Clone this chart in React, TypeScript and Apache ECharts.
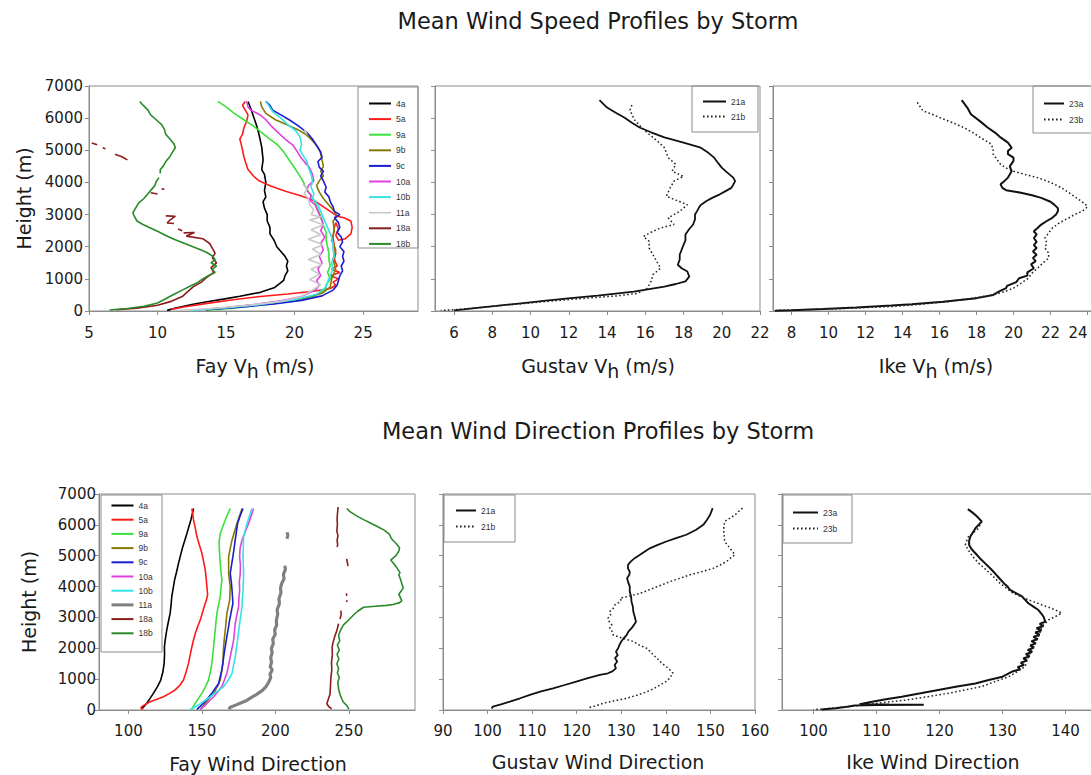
import React, { useEffect, useRef } from "react";
import * as echarts from "echarts";

type P = (number | string)[];
const GAP: P = ["-", "-"];

// ---------- tick labels ----------
const heightTicks = [0, 1000, 2000, 3000, 4000, 5000, 6000, 7000];
const fayVhTicks = [5, 10, 15, 20, 25];
const gustavVhTicks = [6, 8, 10, 12, 14, 16, 18, 20, 22];
const ikeVhTicks = [8, 10, 12, 14, 16, 18, 20, 22, 24];
const fayDirTicks = [100, 150, 200, 250];
const gustavDirTicks = [90, 100, 110, 120, 130, 140, 150, 160];
const ikeDirTicks = [100, 110, 120, 130, 140];

const fayStorms = ["4a", "5a", "9a", "9b", "9c", "10a", "10b", "11a", "18a", "18b"];
const gustavStorms = ["21a", "21b"];
const ikeStorms = ["23a", "23b"];

// ---------- Fay wind speed [Vh m/s, height m] ----------
const fayVh4a: P[] = [[16.6,6520],[16.8,6300],[17.0,6050],[17.2,5800],[17.4,5500],[17.6,5100],[17.7,4700],[17.6,4400],[17.8,4250],[17.9,4000],[17.8,3750],[17.9,3550],[17.7,3400],[17.8,3200],[18.0,3000],[18.0,2800],[18.2,2600],[18.2,2400],[18.5,2200],[18.7,2000],[19.0,1850],[19.3,1700],[19.5,1550],[19.4,1400],[19.5,1250],[19.3,1100],[19.2,950],[18.9,850],[18.5,720],[17.5,580],[16.0,460],[14.8,370],[13.5,280],[12.5,200],[11.4,100],[10.7,20]];
const fayVh5a: P[] = [[16.4,6520],[16.2,6400],[16.4,6250],[16.6,6100],[16.5,5900],[16.3,5700],[16.2,5500],[16.0,5350],[16.1,5200],[16.2,5000],[16.3,4800],[16.4,4650],[16.6,4400],[17.0,4200],[17.4,4050],[18.3,3880],[19.4,3720],[20.5,3580],[21.4,3440],[22.0,3270],[22.6,3100],[23.1,2950],[23.6,2900],[24.1,2800],[24.2,2600],[24.1,2400],[23.7,2250],[23.2,2200],[23.0,2350],[23.2,2550],[23.0,2750],[22.9,2600],[22.8,2300],[22.9,2000],[23.0,1800],[22.9,1600],[23.1,1400],[22.7,1300],[23.3,1200],[22.6,1100],[23.2,1000],[22.8,900],[23.0,800],[22.6,700],[21.5,620],[19.5,530],[17.5,450],[15.5,350],[13.5,230],[12.0,130],[11.0,50]];
const fayVh9a: P[] = [[14.4,6520],[15.0,6350],[15.6,6150],[16.3,5950],[17.0,5750],[17.6,5550],[18.2,5350],[18.8,5150],[19.2,4950],[19.6,4700],[20.0,4450],[20.3,4250],[20.6,4050],[20.8,3850],[21.1,3650],[21.4,3450],[21.6,3250],[21.8,3050],[22.0,2850],[22.1,2650],[22.3,2450],[22.3,2200],[22.4,2000],[22.5,1800],[22.5,1600],[22.6,1400],[22.4,1200],[22.6,1000],[22.3,800],[22.2,650],[21.5,470],[20.0,320],[18.0,200],[15.5,90],[13.5,20]];
const fayVh9b: P[] = [[17.5,6520],[17.6,6350],[17.9,6150],[18.6,5950],[19.4,5800],[20.2,5650],[20.8,5500],[21.3,5300],[21.7,5100],[21.9,4900],[22.0,4700],[22.1,4500],[21.9,4350],[22.1,4200],[21.8,4050],[21.6,3900],[21.8,3700],[22.1,3500],[22.5,3300],[22.9,3100],[23.1,2950],[22.8,2800],[22.9,2500],[22.7,2200],[23.0,1900],[22.8,1600],[23.0,1300],[22.7,1000],[22.6,750],[22.0,550],[20.5,380],[18.5,250],[16.0,130],[13.5,40]];
const fayVh9c: P[] = [[17.9,6520],[18.2,6400],[18.4,6250],[19.0,6100],[19.6,5950],[20.3,5750],[20.9,5550],[21.3,5350],[21.6,5150],[21.9,4950],[22.0,4780],[21.7,4650],[21.8,4470],[22.1,4350],[21.9,4200],[22.1,4050],[22.3,3850],[22.2,3700],[22.5,3550],[22.6,3400],[22.8,3250],[22.9,3100],[23.3,3000],[22.9,2900],[23.2,2750],[23.3,2600],[23.1,2450],[23.4,2300],[23.5,2150],[23.3,2000],[23.6,1850],[23.5,1700],[23.6,1550],[23.4,1400],[23.5,1250],[23.3,1100],[23.2,950],[23.1,800],[22.8,650],[22.0,470],[20.5,330],[18.5,220],[16.0,120],[13.5,40]];
const fayVh10a: P[] = [[16.5,6520],[16.6,6350],[16.8,6250],[17.5,6100],[17.9,5950],[18.3,5750],[18.8,5550],[19.3,5350],[19.9,5150],[20.2,4950],[20.5,4750],[20.8,4600],[21.1,4450],[21.3,4250],[21.4,4050],[21.0,3900],[20.9,3750],[21.2,3600],[21.1,3450],[21.5,3300],[21.7,3100],[21.9,2900],[22.1,2700],[21.9,2500],[22.2,2300],[21.9,2100],[22.1,1900],[21.8,1700],[22.0,1500],[21.7,1300],[21.9,1100],[21.6,950],[21.8,800],[21.5,650],[20.5,450],[19.0,320],[17.0,200],[15.0,110],[13.0,40]];
const fayVh10b: P[] = [[17.9,6520],[18.1,6400],[18.4,6200],[19.0,6000],[19.5,5800],[20.1,5600],[20.4,5400],[20.5,5200],[20.4,5000],[20.6,4850],[20.9,4650],[21.0,4470],[21.2,4250],[21.3,4060],[21.2,3850],[21.4,3650],[21.3,3500],[21.7,3300],[21.9,3100],[22.1,2900],[22.3,2700],[22.5,2500],[22.7,2300],[22.8,2100],[22.8,1900],[22.9,1700],[22.7,1500],[22.8,1300],[22.6,1100],[22.4,900],[22.3,750],[21.6,520],[20.0,350],[17.5,200],[15.0,100],[12.5,20]];
const fayVh11a: P[] = [[20.7,5650],[20.9,5500],GAP,[20.6,3950],[20.9,3800],[20.7,3650],[21.0,3500],[21.1,3300],[21.4,3150],[21.2,3000],[21.9,2920],[21.1,2830],[22.1,2680],[21.2,2530],[21.9,2380],[21.0,2230],[22.1,2060],[21.3,1930],[21.9,1760],[21.0,1600],[22.0,1450],[21.2,1300],[21.8,1140],[21.1,980],[21.9,820],[21.3,650],[20.5,450],[19.0,300],[16.5,170],[13.5,60],[11.0,10]];
const fayVh18a: P[] = [[5.2,5230],[5.6,5170],GAP,[6.0,5080],[6.2,5050],GAP,[6.9,4880],[7.4,4800],[7.8,4700],GAP,[9.5,3680],[10.0,3640],GAP,[10.3,3800],[10.5,3790],GAP,[10.6,2960],[11.3,2950],[10.9,2830],[10.7,2740],[11.2,2720],GAP,[11.5,2550],[11.8,2500],GAP,[11.9,2430],[12.7,2440],[12.1,2330],[13.3,2250],[13.8,2100],[14.0,1950],[14.2,1800],[14.0,1650],[14.3,1500],[13.9,1350],[14.1,1200],[13.6,1050],[13.2,900],[12.6,750],[12.2,600],[11.8,450],[11.0,300],[10.0,180],[8.5,90],[7.0,40]];
const fayVh18b: P[] = [[8.7,6520],[9.0,6380],[9.3,6250],[9.5,6100],[9.9,5950],[10.3,5800],[10.5,5650],[10.6,5500],[10.9,5350],[11.2,5200],[11.3,5080],[11.1,4950],[10.9,4800],[10.6,4650],[10.4,4500],[10.2,4400],[10.2,4280],GAP,[10.1,4150],[9.9,4020],[9.8,3900],[9.6,3800],[9.3,3650],[9.0,3500],[8.6,3350],[8.4,3200],[8.2,3050],[8.3,2950],[8.5,2800],[8.9,2700],[9.4,2600],[10.0,2480],[10.6,2350],[11.2,2230],[11.8,2130],[12.4,2030],[13.0,1930],[13.6,1820],[14.0,1710],[14.2,1600],[13.9,1500],[14.3,1400],[14.0,1300],[14.2,1200],[13.7,1100],[13.3,1000],[12.9,880],[12.4,780],[11.8,650],[11.2,520],[10.6,380],[10.0,250],[9.0,150],[7.8,80],[6.5,30]];

// ---------- Gustav wind speed ----------
const gustavVh21a: P[] = [[13.6,6560],[14.0,6330],[14.5,6150],[14.9,6020],[15.3,5860],[15.7,5710],[16.3,5560],[17.0,5400],[18.0,5240],[18.9,5080],[19.3,4920],[19.6,4770],[19.8,4610],[20.0,4460],[20.2,4350],[20.4,4250],[20.6,4150],[20.7,4040],[20.6,3930],[20.5,3830],[20.2,3730],[19.9,3630],[19.5,3520],[19.2,3420],[18.9,3300],[18.8,3210],[18.7,3100],[18.6,3000],[18.6,2850],[18.5,2690],[18.3,2550],[18.1,2380],[18.1,2200],[18.0,2060],[17.9,1900],[17.8,1750],[17.8,1600],[17.7,1440],[17.9,1330],[18.2,1230],[18.3,1070],[18.1,920],[17.6,840],[17.0,760],[15.4,600],[13.5,480],[12.1,400],[10.8,320],[9.5,240],[8.2,160],[7.2,100],[6.5,50],[6.0,20]];
const gustavVh21b: P[] = [[15.3,6410],[15.2,6250],[15.3,6120],[15.4,5970],[15.8,5710],[16.1,5550],[16.4,5400],[16.7,5250],[17.0,5080],[17.1,4920],[17.2,4770],[17.6,4560],[17.4,4350],[18.0,4190],[17.5,4040],[17.3,3830],[17.1,3570],[17.6,3450],[18.2,3310],[17.8,3100],[17.2,2900],[17.5,2690],[16.8,2580],[16.4,2480],[15.9,2320],[16.2,2170],[16.2,1960],[16.4,1750],[16.6,1540],[16.8,1330],[16.4,1130],[16.3,920],[16.1,710],[15.6,550],[14.5,470],[12.5,380],[10.5,280],[8.5,170],[7.0,90],[6.0,40],[5.3,20]];

// ---------- Ike wind speed ----------
const ikeVh23a: P[] = [[17.2,6560],[17.5,6330],[17.7,6120],[18.2,5900],[18.6,5710],[19.0,5550],[19.3,5400],[19.7,5240],[19.9,5080],[19.7,4980],[19.7,4880],[20.0,4770],[20.0,4670],[19.8,4500],[19.9,4350],[19.7,4150],[19.5,4040],[19.3,3940],[19.4,3830],[19.6,3760],[20.4,3680],[21.0,3600],[21.5,3520],[22.0,3400],[22.2,3310],[22.4,3200],[22.4,3100],[22.3,3000],[22.1,2900],[21.8,2800],[21.5,2690],[21.3,2580],[21.1,2480],[21.25,2380],[21.1,2270],[21.25,2150],[21.1,2050],[21.25,1960],[21.05,1850],[21.25,1750],[21.05,1650],[21.2,1550],[20.95,1450],[21.1,1330],[20.75,1200],[20.75,1100],[20.3,1020],[20.15,900],[19.65,780],[19.6,710],[19.2,600],[18.9,500],[18.0,400],[16.2,290],[14.5,210],[13.4,170],[11.5,110],[9.7,60],[8.0,20],[7.1,5]];
const ikeVh23b: P[] = [[14.8,6490],[15.1,6230],[15.6,6120],[16.0,6020],[16.7,5860],[17.3,5710],[17.8,5550],[18.2,5400],[18.8,5190],[18.9,5030],[18.9,4880],[19.1,4720],[19.3,4560],[19.6,4450],[20.0,4350],[20.6,4250],[21.3,4150],[22.0,4000],[22.6,3830],[23.0,3680],[23.4,3520],[23.7,3400],[24.0,3260],[23.9,3180],[23.7,3100],[23.3,3000],[23.0,2900],[22.5,2750],[22.1,2580],[21.9,2430],[21.7,2270],[21.8,2120],[21.7,1960],[21.9,1800],[21.9,1650],[21.6,1500],[21.3,1330],[21.0,1180],[20.8,1020],[20.4,860],[20.0,710],[19.5,600],[18.9,500],[17.8,400],[16.4,290],[14.8,200],[13.4,140],[10.5,70],[7.2,20]];

// ---------- Fay wind direction [deg, height m] ----------
const fayDir4a: P[] = [[144.3,6530],[143.5,6350],[142.5,6160],[141.2,5950],[139.8,5720],[138.4,5500],[137.0,5290],[135.5,5020],[134.1,4750],[132.8,4480],[131.4,4210],[130.5,3950],[129.5,3670],[129.0,3400],[128.4,3130],[127.2,2860],[126.1,2590],[125.2,2320],[124.5,2050],[124.6,1780],[124.3,1510],[123.5,1240],[122.0,970],[119.8,760],[117.0,540],[114.5,360],[112.5,220],[110.5,110],[109.1,40]];
const fayDir5a: P[] = [[143.2,6530],[143.8,6350],[144.3,6160],[145.5,5900],[146.6,5620],[148.3,5350],[150.0,5080],[151.2,4810],[152.3,4540],[152.9,4270],[153.4,4000],[153.9,3730],[153.0,3550],[152.3,3460],[150.6,3190],[148.9,2920],[147.1,2700],[145.5,2480],[144.3,2270],[143.2,2050],[142.0,1780],[140.9,1510],[139.3,1240],[137.5,970],[135.0,800],[131.8,650],[128.0,540],[123.9,430],[119.0,340],[114.8,270],[111.5,180],[109.1,110],[108.5,50],[110.0,20]];
const fayDir9a: P[] = [[169.3,6530],[167.6,6350],[165.9,6160],[164.2,5940],[162.5,5720],[161.8,5500],[161.8,5290],[162.1,5020],[162.5,4750],[163.0,4480],[163.6,4210],[163.0,3940],[162.5,3670],[161.3,3400],[160.2,3130],[159.6,2860],[159.1,2590],[158.5,2320],[158.0,2050],[157.4,1780],[156.8,1510],[155.8,1240],[154.5,970],[152.5,760],[150.0,540],[147.7,380],[145.5,220],[144.0,100],[143.2,20]];
const fayDir9b: P[] = [[177.3,6530],[175.6,6290],[173.9,6050],[172.2,5780],[170.5,5510],[169.3,5240],[168.2,4970],[168.2,4700],[168.2,4430],[168.7,4210],[169.3,4000],[169.1,3780],[168.9,3560],[168.0,3350],[167.0,3130],[166.5,2860],[165.9,2590],[165.3,2320],[164.8,2050],[164.5,1780],[164.3,1510],[163.4,1240],[162.5,970],[160.5,760],[158.0,540],[155.0,380],[152.3,220],[150.5,100],[148.9,20]];
const fayDir9c: P[] = [[178.0,6530],[176.0,6290],[174.3,6050],[173.5,5780],[172.7,5510],[171.9,5240],[171.1,4970],[170.2,4700],[169.3,4430],[170.0,4160],[170.5,3890],[170.8,3680],[171.1,3460],[170.0,3190],[168.9,2920],[168.0,2650],[167.0,2380],[166.1,2110],[165.2,1840],[164.4,1570],[163.6,1300],[162.5,1080],[161.4,860],[159.0,700],[156.8,540],[154.0,380],[151.1,220],[148.5,100],[146.6,20]];
const fayDir10a: P[] = [[185.2,6530],[183.5,6290],[181.8,6050],[179.5,5780],[177.3,5510],[176.0,5240],[175.7,4970],[176.2,4700],[176.1,4430],[175.5,4160],[175.7,3890],[175.2,3620],[175.0,3350],[173.8,3080],[172.7,2810],[172.2,2540],[171.6,2270],[170.5,2000],[169.3,1730],[168.2,1460],[167.0,1190],[165.3,970],[163.6,760],[161.0,600],[158.0,430],[155.0,290],[152.3,160],[150.0,60],[148.9,20]];
const fayDir10b: P[] = [[184.1,6530],[182.4,6290],[180.7,6050],[179.5,5830],[178.4,5620],[178.2,5300],[178.0,4970],[178.2,4700],[178.4,4430],[178.2,4160],[178.0,3890],[177.6,3620],[177.3,3350],[176.5,3080],[175.7,2810],[175.0,2540],[174.3,2270],[173.5,2000],[172.7,1730],[171.6,1460],[170.5,1190],[168.0,970],[164.8,760],[160.0,590],[155.7,430],[151.5,290],[147.7,160],[144.5,80],[142.0,20]];
const fayDir11a: P[] = [[208.0,5760],[208.5,5650],[207.8,5550],GAP,[206.5,4680],[206.8,4550],[205.5,4400],[205.9,4250],[204.3,4100],[203.5,3950],[203.8,3800],[202.4,3600],[202.8,3450],[201.2,3250],[201.6,3100],[200.6,2900],[200.9,2750],[199.5,2600],[199.9,2450],[198.2,2300],[198.6,2150],[197.3,2000],[197.8,1850],[196.8,1700],[197.4,1550],[196.5,1400],[197.9,1300],[196.4,1170],[196.8,1050],[195.5,900],[193.5,750],[191.0,630],[187.0,500],[183.5,400],[180.5,310],[176.0,220],[172.5,150],[169.0,80],[168.5,20]];
const fayDir18a: P[] = [[242.7,6580],[242.3,6400],[242.0,6200],[242.2,6000],[241.8,5800],[242.6,5650],[242.0,5500],[242.4,5350],[242.0,5280],GAP,[248.5,4900],[249.0,4780],[249.4,4660],GAP,[248.3,3780],[248.6,3700],GAP,[248.8,3560],[248.4,3500],GAP,[244.5,3220],[244.8,3100],[244.0,2950],GAP,[243.0,2800],[242.0,2600],[240.5,2400],[239.3,2200],[238.6,2040],[238.8,1800],[238.2,1550],[238.4,1300],[237.8,1050],[237.5,800],[237.2,520],[236.0,350],[235.0,200],[236.5,100],[238.3,40]];
const fayDir18b: P[] = [[248.5,6530],[251.0,6420],[255.0,6300],[260.0,6170],[265.0,6050],[270.0,5930],[274.0,5830],[277.5,5700],[279.0,5550],[282.5,5380],[284.5,5250],[284.0,5150],[282.0,5000],[278.5,4860],[280.5,4750],[282.5,4620],[284.8,4450],[284.0,4380],[285.0,4250],[286.0,4100],[287.0,3950],[285.5,3850],[284.0,3750],[285.0,3650],[286.0,3540],[284.5,3480],[280.0,3420],[275.7,3390],[268.0,3360],[260.0,3330],[256.0,3200],[253.0,3070],[249.5,2900],[246.2,2750],[244.5,2600],[243.0,2420],[243.8,2250],[242.2,2100],[243.5,1950],[242.0,1800],[243.2,1650],[241.8,1500],[243.0,1350],[242.2,1200],[243.5,1050],[242.5,900],[243.0,690],[244.0,500],[245.0,380],[246.2,260],[248.5,150],[250.0,30]];

// ---------- Gustav wind direction ----------
const gustavDir21a: P[] = [[150.5,6540],[150.2,6430],[149.9,6320],[149.2,6160],[148.4,6000],[146.8,5840],[144.6,5680],[142.3,5570],[140.1,5460],[138.2,5350],[136.4,5240],[135.2,5130],[134.2,5030],[133.0,4920],[132.1,4810],[131.5,4700],[131.5,4590],[131.9,4480],[131.8,4380],[131.3,4270],[131.5,4160],[131.9,4000],[131.9,3840],[132.2,3680],[132.3,3510],[132.6,3350],[132.7,3190],[133.0,3030],[133.3,2860],[132.8,2750],[132.3,2650],[131.6,2540],[131.2,2430],[130.5,2320],[130.0,2220],[129.6,2110],[129.3,2000],[128.8,1890],[129.2,1780],[128.6,1680],[129.1,1570],[128.5,1460],[128.8,1350],[128.0,1250],[127.0,1190],[125.2,1140],[122.5,1030],[119.9,920],[117.3,810],[114.7,700],[112.0,600],[109.5,490],[107.3,380],[105.0,270],[103.0,180],[101.2,110],[100.9,50]];
const gustavDir21b: P[] = [[157.2,6540],[156.3,6430],[155.5,6320],[154.3,6210],[153.2,6110],[153.0,5950],[153.0,5780],[153.1,5620],[153.2,5460],[153.8,5350],[154.4,5240],[155.5,5030],[154.5,4920],[153.6,4810],[152.2,4700],[150.6,4590],[148.0,4480],[145.4,4380],[143.2,4270],[140.9,4160],[139.0,4050],[137.2,3950],[135.7,3860],[134.2,3780],[132.0,3700],[129.7,3620],[129.9,3560],[129.7,3510],[128.5,3400],[128.2,3300],[127.4,3190],[127.6,3080],[127.0,2970],[127.3,2860],[127.9,2750],[127.4,2650],[128.0,2540],[128.2,2430],[129.2,2380],[130.4,2320],[131.6,2270],[132.7,2220],[134.0,2110],[135.7,2000],[136.5,1890],[137.2,1780],[138.0,1680],[138.7,1570],[139.6,1460],[140.5,1350],[141.2,1270],[141.6,1190],[141.2,1110],[140.9,1030],[140.0,920],[138.7,810],[137.4,700],[135.7,590],[133.5,480],[131.2,380],[128.5,300],[126.0,220],[124.5,150],[122.9,80],[122.6,20]];

// ---------- Ike wind direction ----------
const ikeDir23a: P[] = [[124.5,6510],[125.1,6420],[125.7,6320],[126.2,6220],[126.7,6110],[126.2,6000],[125.7,5890],[125.3,5750],[124.9,5620],[124.7,5480],[124.7,5350],[125.1,5210],[125.7,5080],[126.4,4920],[127.2,4760],[128.0,4600],[128.8,4430],[129.5,4270],[130.2,4110],[130.8,4000],[131.2,3890],[132.2,3780],[133.1,3680],[133.6,3570],[134.1,3460],[134.9,3350],[135.7,3240],[136.1,3140],[136.5,3030],[136.8,2860],[135.9,2790],[136.5,2720],[135.4,2650],[136.2,2580],[135.2,2510],[135.9,2440],[134.9,2370],[135.6,2300],[134.6,2230],[135.3,2160],[134.4,2090],[135.0,2020],[134.0,1950],[134.7,1880],[133.7,1810],[134.3,1740],[133.3,1670],[133.9,1600],[132.9,1530],[133.4,1460],[132.4,1390],[132.8,1320],[131.6,1250],[130.0,1080],[127.8,970],[125.7,860],[122.8,760],[119.8,650],[117.0,540],[114.0,430],[111.5,350],[109.3,270],[107.3,190],[112.0,175],[117.5,168],[110.0,160],[106.5,145],[105.6,110],[103.5,60],[101.3,20]];
const ikeDir23b: P[] = [[126.7,6110],[126.2,5890],[125.4,5750],[124.6,5620],[124.3,5480],[124.1,5350],[124.5,5210],[124.9,5080],[125.5,4920],[126.2,4760],[127.1,4600],[128.0,4430],[128.8,4270],[129.6,4110],[130.6,3950],[131.7,3780],[132.9,3680],[134.1,3570],[135.2,3490],[136.2,3410],[137.3,3330],[138.4,3240],[139.4,3140],[138.9,3080],[138.4,3030],[137.3,2920],[136.8,2810],[136.2,2700],[136.0,2540],[135.7,2380],[135.3,2220],[134.9,2050],[134.5,1890],[134.1,1730],[133.8,1570],[133.6,1410],[132.4,1250],[131.0,1080],[128.8,920],[126.7,760],[124.0,650],[121.4,540],[118.0,430],[114.6,320],[111.0,240],[107.7,160],[105.0,100],[102.4,50],[100.0,10]];

const fayVhData = [fayVh4a, fayVh5a, fayVh9a, fayVh9b, fayVh9c, fayVh10a, fayVh10b, fayVh11a, fayVh18a, fayVh18b];
const fayDirData = [fayDir4a, fayDir5a, fayDir9a, fayDir9b, fayDir9c, fayDir10a, fayDir10b, fayDir11a, fayDir18a, fayDir18b];

// ---------- styles ----------
const fayColors: Record<string, string> = {
  "4a": "#000000", "5a": "#ff1a1a", "9a": "#3ce03c", "9b": "#857a00", "9c": "#1c1cd2",
  "10a": "#e040e0", "10b": "#33e3e8", "11a": "#c9c9c9", "18a": "#8b1c1c", "18b": "#2a8a2a",
};
const gray11aDir = "#808080";
const FONT = "DejaVu Sans";
const AXIS_GRAY = "#8c8c8c";
const DOT = [1.6, 2.4];

function mkLine(name: string, data: P[], idx: number, color: string, width: number, dash?: number[]) {
  return {
    type: "line",
    name,
    data,
    xAxisIndex: idx,
    yAxisIndex: idx,
    symbol: "none",
    showSymbol: false,
    connectNulls: false,
    lineStyle: { color, width, type: dash ? dash : "solid" },
    itemStyle: { color },
    emphasis: { disabled: true },
  };
}

function mkX(idx: number, min: number, max: number, ticks: number[], margin: number, alignMax?: string) {
  return {
    type: "value",
    gridIndex: idx,
    min,
    max,
    axisLine: { show: true, onZero: false, lineStyle: { color: AXIS_GRAY, width: 1 } },
    axisTick: { show: true, inside: false, length: 4, lineStyle: { color: AXIS_GRAY }, customValues: ticks },
    axisLabel: {
      show: true,
      customValues: ticks,
      fontSize: 15,
      fontFamily: FONT,
      color: "#1a1a1a",
      margin,
      alignMaxLabel: alignMax,
      formatter: (v: number) => String(v),
    },
    splitLine: { show: false },
  };
}

function mkY(idx: number, showLabel: boolean, labelMargin: number, nameGap: number) {
  return {
    type: "value",
    gridIndex: idx,
    min: 0,
    max: 7000,
    interval: 1000,
    name: showLabel ? "Height (m)" : "",
    nameLocation: "middle",
    nameGap,
    nameTextStyle: { fontSize: 19, fontFamily: FONT, color: "#1a1a1a" },
    axisLine: { show: true, onZero: false, lineStyle: { color: AXIS_GRAY, width: 1 } },
    axisTick: { show: true, inside: false, length: 4, lineStyle: { color: AXIS_GRAY }, customValues: heightTicks },
    axisLabel: {
      show: showLabel,
      customValues: heightTicks,
      fontSize: 15,
      fontFamily: FONT,
      color: "#1a1a1a",
      margin: labelMargin,
      formatter: (v: number) => String(v),
    },
    splitLine: { show: false },
  };
}

function legendBox(x: number, y: number, w: number, h: number) {
  return { type: "rect", z: 10, shape: { x, y, width: w, height: h }, style: { fill: "transparent", stroke: AXIS_GRAY, lineWidth: 1 } };
}

function label(x: number, y: number, text: string, size: number, rich?: any) {
  return {
    type: "text",
    x,
    y,
    z: 10,
    style: {
      text,
      fontSize: size,
      fontFamily: FONT,
      fill: "#1a1a1a",
      align: "center",
      textAlign: "center",
      verticalAlign: "middle",
      textVerticalAlign: "middle",
      rich,
    },
  };
}

const subRich = {
  s: { fontSize: 19, fontFamily: FONT, fill: "#1a1a1a", color: "#1a1a1a", padding: [10, 0, 0, 0], verticalAlign: "bottom" },
};

const hiddenSymbol = { color: "rgba(0,0,0,0)", borderColor: "rgba(0,0,0,0)", borderWidth: 0, opacity: 0 };

function legendCfg(data: any[], left: number, top: number, itemWidth: number, itemGap: number) {
  return {
    data,
    left,
    top,
    orient: "vertical",
    itemWidth,
    itemHeight: 8,
    itemGap,
    padding: 0,
    selectedMode: false,
    textStyle: { fontSize: 8.5, fontFamily: "Liberation Sans", color: "#333" },
    itemStyle: hiddenSymbol,
  };
}

export default function App() {
  const ref = useRef<HTMLDivElement>(null);

  useEffect(() => {
    if (!ref.current) return;
    const chart = echarts.init(ref.current, undefined, { renderer: "svg" });

    const series: any[] = [];
    fayStorms.forEach((n, i) => series.push(mkLine(n, fayVhData[i], 0, fayColors[n], 1.6)));
    series.push(mkLine("21a", gustavVh21a, 1, "#111", 1.8));
    series.push(mkLine("21b", gustavVh21b, 1, "#222", 1.5, DOT));
    series.push(mkLine("23a", ikeVh23a, 2, "#111", 2));
    series.push(mkLine("23b", ikeVh23b, 2, "#222", 1.5, DOT));
    fayStorms.forEach((n, i) =>
      series.push(mkLine(n, fayDirData[i], 3, n === "11a" ? gray11aDir : fayColors[n], n === "11a" ? 3.2 : 1.6))
    );
    series.push(mkLine("21a", gustavDir21a, 4, "#111", 1.8));
    series.push(mkLine("21b", gustavDir21b, 4, "#222", 1.5, DOT));
    series.push(mkLine("23a", ikeDir23a, 5, "#111", 2));
    series.push(mkLine("23b", ikeDir23b, 5, "#222", 1.5, DOT));

    const gridBase = { show: true, borderColor: AXIS_GRAY, borderWidth: 1, backgroundColor: "transparent", containLabel: false, outerBoundsMode: "none" };
    const grids = [
      { left: 89, top: 86, width: 329, height: 225 },
      { left: 435, top: 86, width: 325, height: 225 },
      { left: 773, top: 86, width: 333, height: 225 },
      { left: 99, top: 494, width: 316, height: 216 },
      { left: 443, top: 494, width: 312, height: 216 },
      { left: 782, top: 494, width: 346.5, height: 216 },
    ].map((g) => ({ ...gridBase, ...g }));

    const fayDirLegend = fayStorms.map((n) =>
      n === "11a" ? { name: n, lineStyle: { color: gray11aDir, width: 3 } } : n
    );
    const fayVhLegend = fayStorms.map((n) =>
      n === "11a" ? { name: n, lineStyle: { color: fayColors[n], width: 1.6 } } : n
    );

    chart.setOption({
      animation: false,
      backgroundColor: "#ffffff",
      grid: grids,
      xAxis: [
        mkX(0, 5, 29, fayVhTicks, 14),
        mkX(1, 5, 22, gustavVhTicks, 14),
        mkX(2, 7, 25, ikeVhTicks, 14, "right"),
        mkX(3, 80, 295, fayDirTicks, 13),
        mkX(4, 90, 160, gustavDirTicks, 13),
        mkX(5, 95, 150, ikeDirTicks, 13),
      ],
      yAxis: [
        mkY(0, true, 6, 56),
        mkY(1, false, 6, 40),
        mkY(2, false, 6, 40),
        mkY(3, true, 3, 61),
        mkY(4, false, 6, 40),
        mkY(5, false, 6, 40),
      ],
      legend: [
        legendCfg(fayVhLegend, 368, 99, 22, 6.6),
        legendCfg(gustavStorms, 702, 97, 23, 6),
        legendCfg(ikeStorms, 1043, 99, 20, 7),
        legendCfg(fayDirLegend, 110, 501, 22, 5.2),
        legendCfg(gustavStorms, 455, 506, 20, 7),
        legendCfg(ikeStorms, 792, 508, 25, 7),
      ],
      graphic: [
        legendBox(358, 87, 60, 161),
        legendBox(692, 86, 66, 46),
        legendBox(1033, 86, 70, 47),
        legendBox(101, 495, 61, 157),
        legendBox(444, 495, 71, 47),
        legendBox(783, 495, 69, 48),
        label(598, 21, "Mean Wind Speed Profiles by Storm", 22.5),
        label(598, 431, "Mean Wind Direction Profiles by Storm", 22.5),
        label(255, 366, "Fay V{s|h} (m/s)", 19, subRich),
        label(598, 366, "Gustav V{s|h} (m/s)", 19, subRich),
        label(936, 366, "Ike V{s|h} (m/s)", 19, subRich),
        label(258, 764, "Fay Wind Direction", 19),
        label(598, 762, "Gustav Wind Direction", 19),
        label(933, 762, "Ike Wind Direction", 19),
      ],
      series,
    });

    return () => chart.dispose();
  }, []);

  return (
    <div
      ref={ref}
      style={{ position: "fixed", left: 0, top: 0, width: 1091, height: 775, background: "#fff" }}
    />
  );
}
